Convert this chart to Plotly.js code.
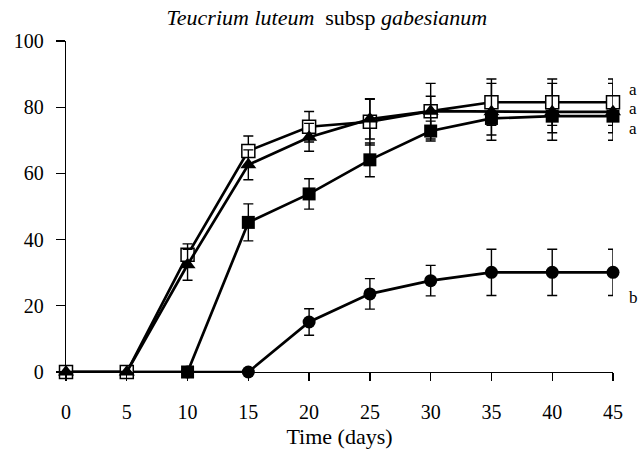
<!DOCTYPE html>
<html>
<head>
<meta charset="utf-8">
<script src="https://cdn.plot.ly/plotly-3.0.1.min.js"></script>
<style>html,body{margin:0;padding:0;background:#fff;}#chart{width:640px;height:450px;}</style>
</head>
<body>
<div id="chart"></div>
<script>
// Time (days)
const days = [0, 5, 10, 15, 20, 25, 30, 35, 40, 45];

// Germination (%) per treatment, with error bars
const openSquare = [0, 0, 35.4, 66.8, 74.1, 75.6, 78.8, 81.5, 81.5, 81.5];
const openSquareErr = [0, 0, 3.3, 4.5, 4.6, 7, 4.5, 7, 7, 7];

const triangle = [0, 0, 32.4, 62.6, 70.9, 76.4, 78.8, 78.6, 78.6, 78.6];
const triangleErr = [0, 0, 4.7, 4.5, 4.2, 6, 8.4, 8.6, 8.6, 8.6];

const filledSquare = [0, 0, 0, 45.2, 53.8, 64.1, 72.8, 76.6, 77.3, 77.3];
const filledSquareErr = [0, 0, 0, 5.6, 4.6, 5.1, 3, 5, 5, 5];

const circle = [0, 0, 0, 0, 15.1, 23.6, 27.6, 30.1, 30.1, 30.1];
const circleErr = [0, 0, 0, 0, 4, 4.6, 4.6, 7, 7, 7];

// significance letters at the end of the curves
const letters = ['a', 'a', 'a', 'b'];
const letterY = [85.5, 79.5, 73.5, 22.5];

const FONT = 'Times New Roman';

function series(y, err, marker) {
  return {
    x: days, y: y, type: 'scatter', mode: 'lines+markers',
    line: {color: '#000', width: 2.7},
    marker: marker,
    error_y: {type: 'data', array: err, visible: true, color: '#000', thickness: 1.4, width: 5},
    cliponaxis: false, showlegend: false
  };
}

const data = [
  series(circle, circleErr, {symbol: 'circle', size: 13, color: '#000'}),
  series(filledSquare, filledSquareErr, {symbol: 'square', size: 13, color: '#000'}),
  series(openSquare, openSquareErr, {symbol: 'square', size: 13, color: '#fff', line: {color: '#000', width: 1.5}}),
  series(triangle, triangleErr, {symbol: 'triangle-up', size: 14, color: '#000'})
];

const annotations = letters.map((t, i) => ({
  x: 45, y: letterY[i], xref: 'x', yref: 'y', text: t, showarrow: false,
  xanchor: 'left', xshift: 14, yanchor: 'middle',
  font: {family: FONT, size: 17, color: '#000'}
}));

const layout = {
  width: 640, height: 450,
  margin: {l: 66, r: 27, t: 41, b: 78},
  paper_bgcolor: '#fff', plot_bgcolor: '#fff',
  font: {family: FONT, color: '#000', size: 20},
  title: {
    text: '<i>Teucrium luteum</i>&nbsp; subsp <i>gabesianum</i>',
    font: {family: FONT, size: 22, color: '#000'},
    x: 0.477, xref: 'paper', y: 0.962, yanchor: 'middle'
  },
  xaxis: {
    range: [0, 45], tickmode: 'array', tickvals: days, ticktext: days.map(String),
    showgrid: false, zeroline: false, showline: true, linecolor: '#000', linewidth: 1.3,
    ticks: 'outside', ticklen: 8, tickwidth: 1.3, tickcolor: '#000',
    ticklabelstandoff: 14,
    tickfont: {family: FONT, size: 20, color: '#000'},
    title: {text: 'Time (days)', font: {family: FONT, size: 22, color: '#000'}, standoff: 6}
  },
  yaxis: {
    range: [0, 100], dtick: 20, tick0: 0,
    showgrid: false, zeroline: false, showline: true, linecolor: '#000', linewidth: 1.3,
    ticks: 'outside', ticklen: 9, tickwidth: 1.3, tickcolor: '#000',
    ticklabelstandoff: 8,
    tickfont: {family: FONT, size: 20, color: '#000'}
  },
  annotations: annotations
};

Plotly.newPlot('chart', data, layout, {displayModeBar: false, staticPlot: true});
</script>
</body>
</html>
